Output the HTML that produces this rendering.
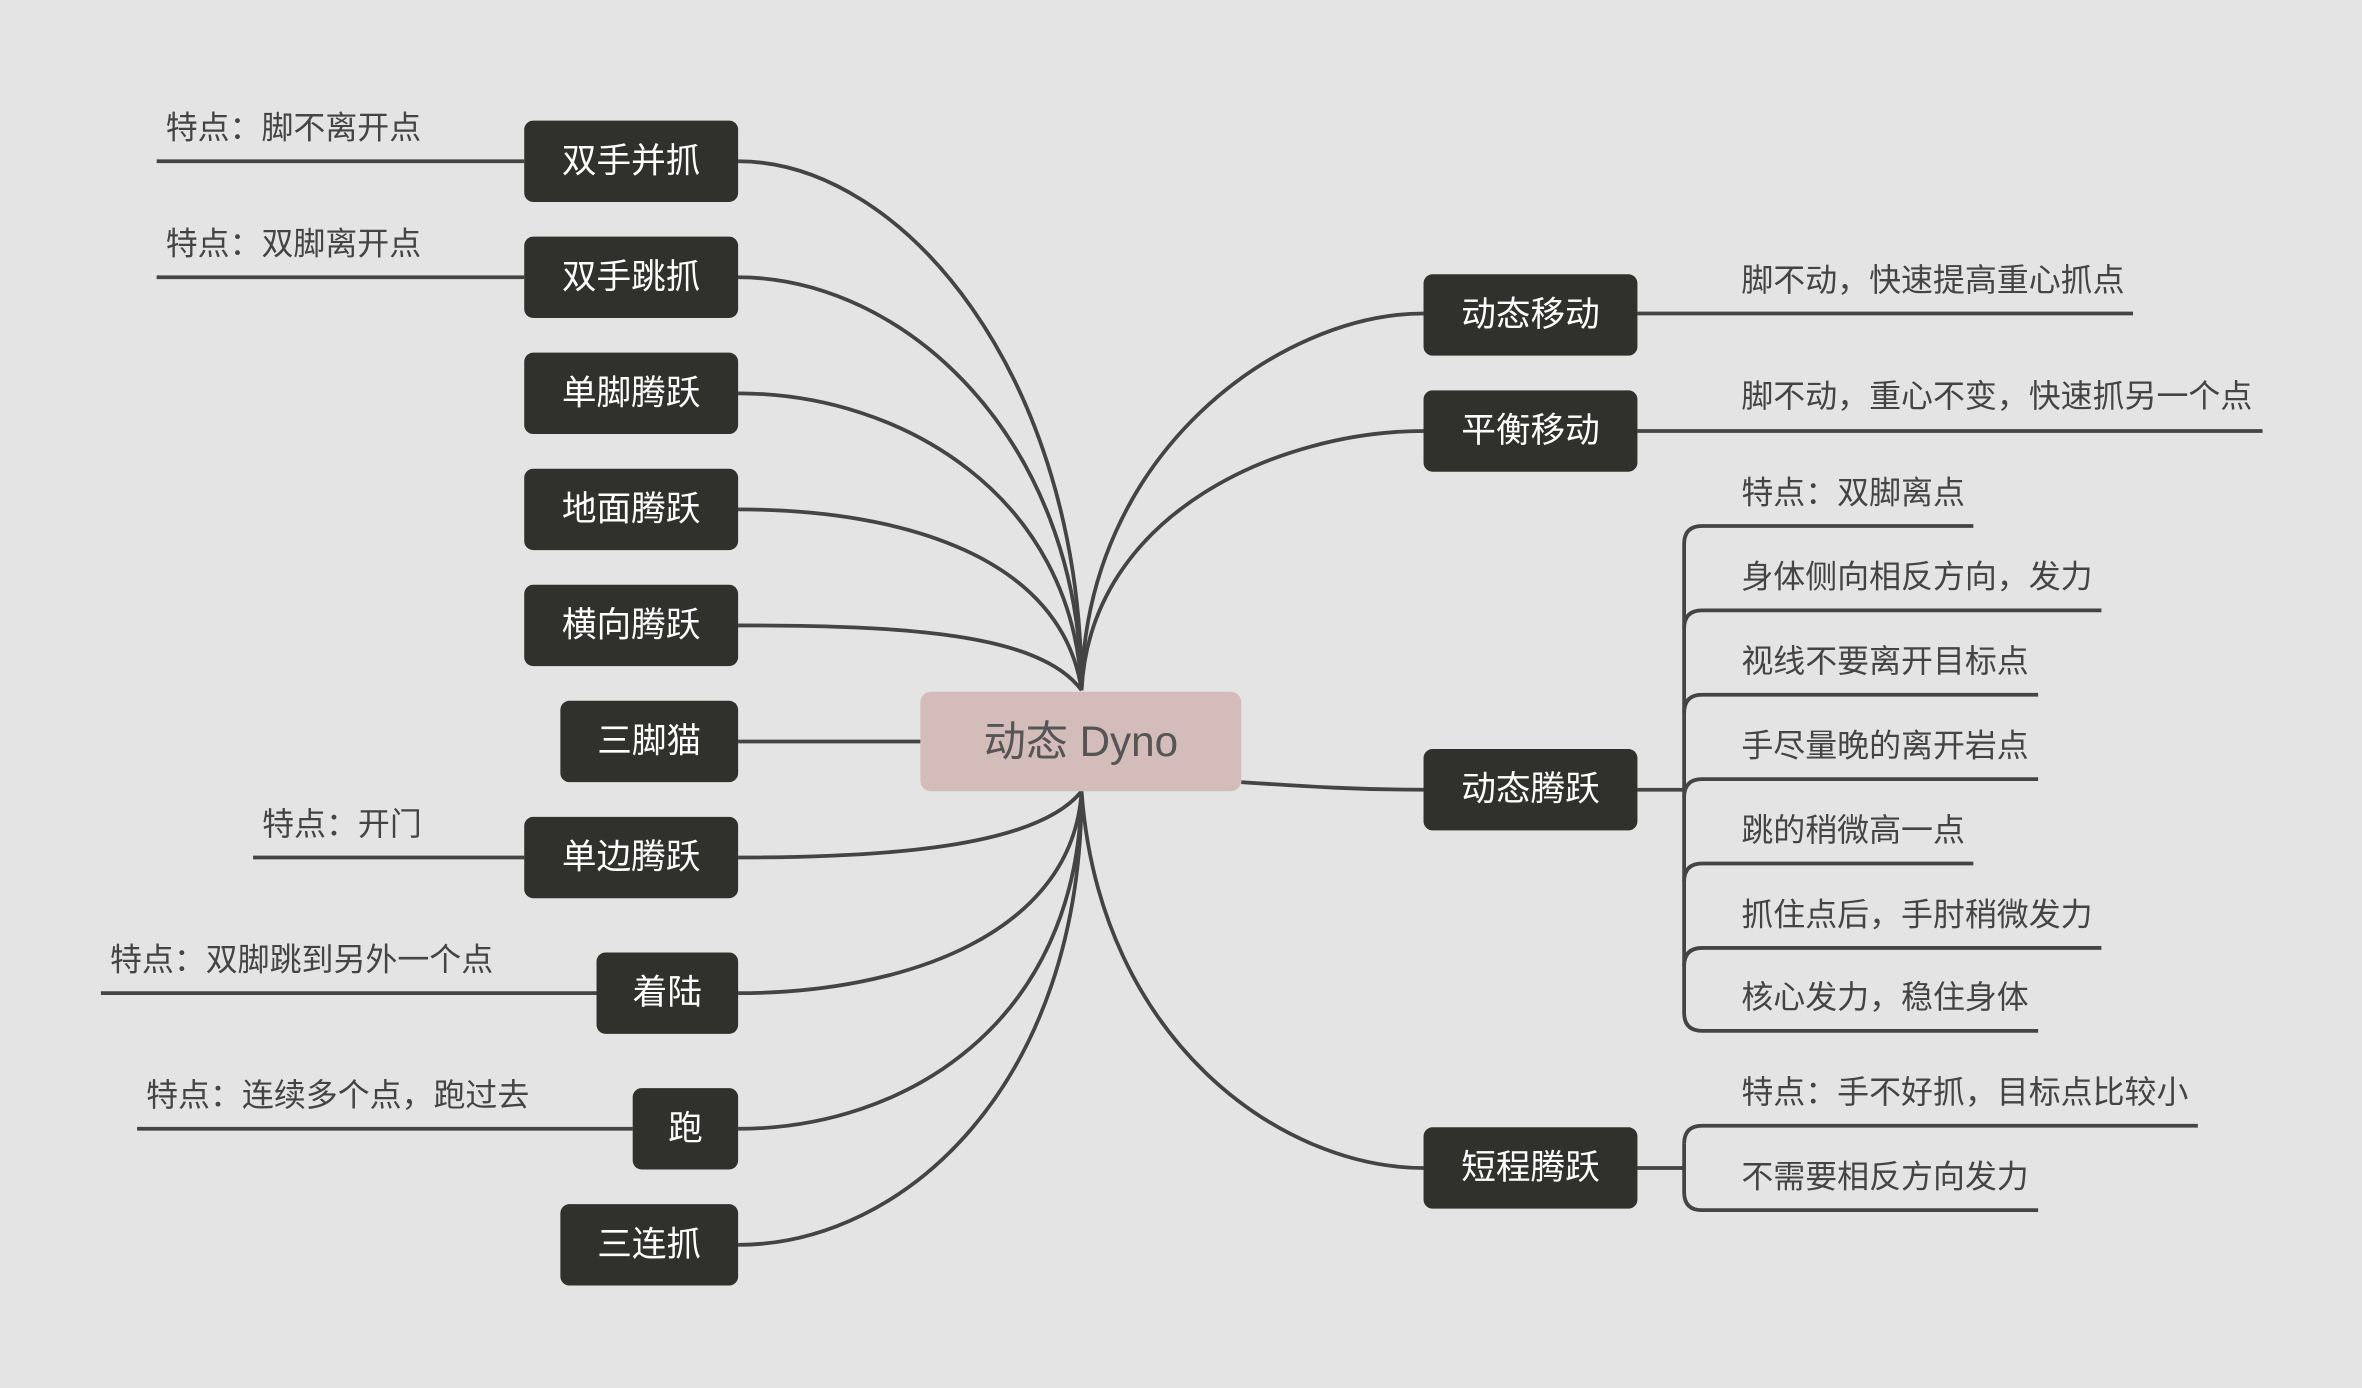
<!DOCTYPE html>
<html><head><meta charset="utf-8"><style>
html,body{margin:0;padding:0;background:#e4e4e4;}
svg{display:block;}
text{font-family:"Liberation Sans","Noto Sans CJK SC",sans-serif;}
.n{fill:#30302d;}
.nt{fill:#fff;font-size:23px;font-weight:normal;text-anchor:middle;dominant-baseline:central;}
.l{fill:#444;font-size:21.2px;}
.c{fill:none;stroke:#444;stroke-width:2.5;}
</style></head><body>
<svg width="2362" height="1388" viewBox="0 0 1568 921" preserveAspectRatio="none" xmlns="http://www.w3.org/2000/svg">
<rect width="1568" height="921" fill="#e4e4e4"/>
<g class="c">
<path d="M718,458 C718,250 600,107 490,107"/>
<path d="M718,458 C716,290 600,184 490,184"/>
<path d="M718,458 C712,330 600,261 490,261"/>
<path d="M718,458 C705,370 600,338 490,338"/>
<path d="M718,458 C690,420 600,415 490,415"/>
<path d="M611,492 L490,492"/>
<path d="M718,525 C690,560 600,569 490,569"/>
<path d="M718,525 C712,620 600,659 490,659"/>
<path d="M718,525 C716,680 600,749 490,749"/>
<path d="M718,525 C718,720 600,826 490,826"/>
<path d="M104,107 L348,107"/>
<path d="M104,184 L348,184"/>
<path d="M168,569 L348,569"/>
<path d="M67,659 L396,659"/>
<path d="M91,749 L420,749"/>
<path d="M718,458 C720,300 850,208 945,208"/>
<path d="M718,458 C724,340 850,286 945,286"/>
<path d="M824,519 C870,522 900,524 945,524"/>
<path d="M718,525 C730,690 850,775 945,775"/>
<path d="M1087,208 L1416,208"/>
<path d="M1087,286 L1502,286"/>
<path d="M1087,524 L1118,524"/>
<path d="M1118,361 Q1118,349 1130,349 L1310,349"/>
<path d="M1118,361 L1118,672 Q1118,684 1130,684 L1353,684"/>
<path d="M1118,417 Q1118,405 1130,405 L1395,405"/>
<path d="M1118,473 Q1118,461 1130,461 L1353,461"/>
<path d="M1118,529 Q1118,517 1130,517 L1353,517"/>
<path d="M1118,585 Q1118,573 1130,573 L1310,573"/>
<path d="M1118,641 Q1118,629 1130,629 L1395,629"/>
<path d="M1087,775 L1118,775"/>
<path d="M1118,759 Q1118,747 1130,747 L1459,747"/>
<path d="M1118,759 L1118,791 Q1118,803 1130,803 L1353,803"/>
</g>
<rect x="611" y="459" width="213" height="66" rx="7" fill="#d4bcbb"/>
<text x="717.5" y="492" text-anchor="middle" dominant-baseline="central" font-size="28" fill="#555">动态 Dyno</text>
<rect class="n" x="348" y="80" width="142" height="54" rx="6"/><text class="nt" x="419" y="107">双手并抓</text>
<rect class="n" x="348" y="157" width="142" height="54" rx="6"/><text class="nt" x="419" y="184">双手跳抓</text>
<rect class="n" x="348" y="234" width="142" height="54" rx="6"/><text class="nt" x="419" y="261">单脚腾跃</text>
<rect class="n" x="348" y="311" width="142" height="54" rx="6"/><text class="nt" x="419" y="338">地面腾跃</text>
<rect class="n" x="348" y="388" width="142" height="54" rx="6"/><text class="nt" x="419" y="415">横向腾跃</text>
<rect class="n" x="372" y="465" width="118" height="54" rx="6"/><text class="nt" x="431" y="492">三脚猫</text>
<rect class="n" x="348" y="542" width="142" height="54" rx="6"/><text class="nt" x="419" y="569">单边腾跃</text>
<rect class="n" x="396" y="632" width="94" height="54" rx="6"/><text class="nt" x="443" y="659">着陆</text>
<rect class="n" x="420" y="722" width="70" height="54" rx="6"/><text class="nt" x="455" y="749">跑</text>
<rect class="n" x="372" y="799" width="118" height="54" rx="6"/><text class="nt" x="431" y="826">三连抓</text>
<rect class="n" x="945" y="182" width="142" height="54" rx="6"/><text class="nt" x="1016" y="209">动态移动</text>
<rect class="n" x="945" y="259" width="142" height="54" rx="6"/><text class="nt" x="1016" y="286">平衡移动</text>
<rect class="n" x="945" y="497" width="142" height="54" rx="6"/><text class="nt" x="1016" y="524">动态腾跃</text>
<rect class="n" x="945" y="748" width="142" height="54" rx="6"/><text class="nt" x="1016" y="775">短程腾跃</text>
<text class="l" x="110" y="92">特点：脚不离开点</text>
<text class="l" x="110" y="169">特点：双脚离开点</text>
<text class="l" x="174" y="554">特点：开门</text>
<text class="l" x="73" y="644">特点：双脚跳到另外一个点</text>
<text class="l" x="97" y="734">特点：连续多个点，跑过去</text>
<text class="l" x="1156" y="193">脚不动，快速提高重心抓点</text>
<text class="l" x="1156" y="270">脚不动，重心不变，快速抓另一个点</text>
<text class="l" x="1156" y="334">特点：双脚离点</text>
<text class="l" x="1156" y="390">身体侧向相反方向，发力</text>
<text class="l" x="1156" y="446">视线不要离开目标点</text>
<text class="l" x="1156" y="502">手尽量晚的离开岩点</text>
<text class="l" x="1156" y="558">跳的稍微高一点</text>
<text class="l" x="1156" y="614">抓住点后，手肘稍微发力</text>
<text class="l" x="1156" y="669">核心发力，稳住身体</text>
<text class="l" x="1156" y="732">特点：手不好抓，目标点比较小</text>
<text class="l" x="1156" y="788">不需要相反方向发力</text>
</svg>
</body></html>
